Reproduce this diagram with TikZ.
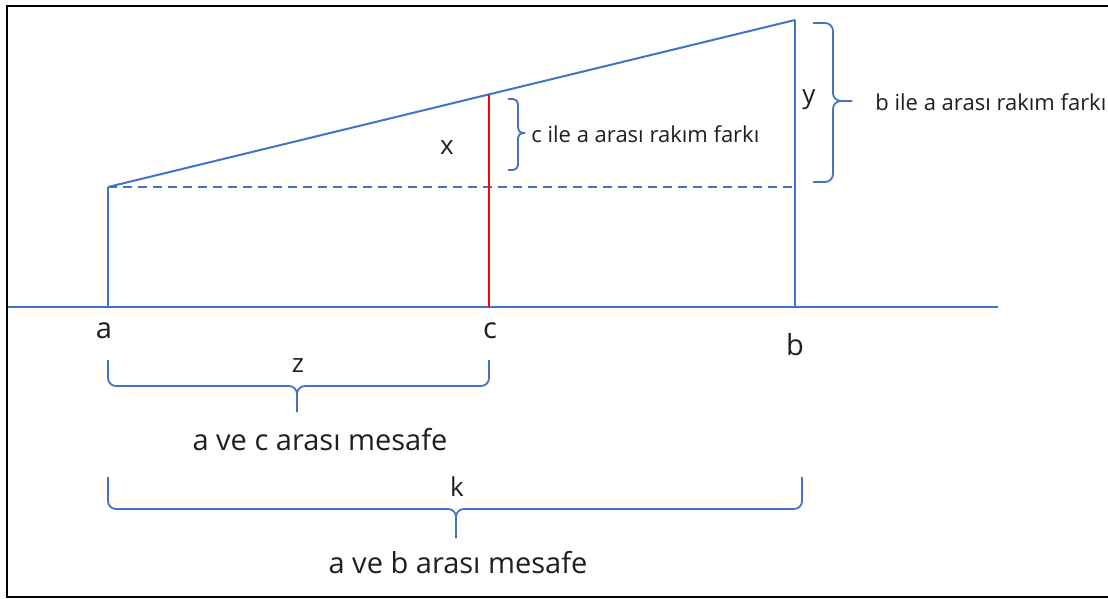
\documentclass[tikz,border=0pt]{standalone}
\usepackage{fontspec}
\setmainfont{Open Sans}
\usetikzlibrary{positioning}
\definecolor{lineblue}{HTML}{4472C4}
\definecolor{txt}{HTML}{1E1E1E}
\tikzset{
  ln/.style   ={draw=lineblue, line width=1pt},
  dln/.style  ={ln, dash pattern=on 4.5pt off 3pt},
  redln/.style={draw=red, line width=1pt},
  brc/.style  ={draw=lineblue, line width=0.9pt, rounded corners=4pt},
  sbrc/.style ={brc, rounded corners=2.5pt},
  pt/.style   ={font=\fontsize{14.5}{17}\selectfont, text=txt, inner sep=0pt},
  lbl/.style  ={font=\fontsize{13}{15}\selectfont, text=txt, inner sep=0pt},
  note/.style ={font=\fontsize{11}{13}\selectfont, text=txt, inner sep=0pt, anchor=west},
}

\begin{document}
\begin{tikzpicture}[x=0.5pt, y=-0.5pt]

  \useasboundingbox (0,0) rectangle (1108,599);

  % ── Frame ──────────────────────────────────────────────────────────
  \draw[line width=1.3pt] (1110,6) -- (7,6) -- (7,597) -- (1110,597);

  % ── Points ─────────────────────────────────────────────────────────
  \coordinate (g0) at (8,307);
  \coordinate (g1) at (998,307);
  \coordinate (a)  at (108,307);
  \coordinate (aT) at (108,187);
  \coordinate (c)  at (489,307);
  \coordinate (cT) at (489,95);
  \coordinate (b)  at (795,307);
  \coordinate (bT) at (795,20);
  \coordinate (bD) at (795,187);

  % ── Terrain ────────────────────────────────────────────────────────
  \draw[ln] (g0) -- (g1);
  \draw[ln] (a) -- (aT);
  \draw[ln] (aT) -- (bT);
  \draw[ln] (b) -- (bT);
  \draw[dln] (aT) -- (bD);
  \draw[redln] (c) -- (cT);

  % ── Point labels ───────────────────────────────────────────────────
  \node[pt] (la) at (104,331) {a};
  \node[pt] (lc) at (490,331) {c};
  \node[pt] (lb) at (795,345) {b};
  \node[lbl] (lx) at (447,148) {x};
  \node[lbl] (ly) at (809,100) {y};

  % ── Height braces ──────────────────────────────────────────────────
  \draw[sbrc] (508,99)  -- (518,99)  -- (518,133) -- (525,133);
  \draw[sbrc] (508,170) -- (518,170) -- (518,133) -- (525,133);
  \node[note] (hx) at (531,134) {c ile a arası rakım farkı};

  \draw[brc] (813,23)  -- (833,23)  -- (833,101) -- (852,101);
  \draw[brc] (813,182) -- (833,182) -- (833,101) -- (852,101);
  \node[note] (hy) at (875,102) {b ile a arası rakım farkı};

  % ── Distance braces ────────────────────────────────────────────────
  \draw[brc] (108,360) -- (108,386) -- (297,386) -- (297,412);
  \draw[brc] (489,360) -- (489,386) -- (297,386) -- (297,412);
  \node[lbl] (lz) at (298,366) {z};
  \node[pt]  (dz) at (320,440) {a ve c arası mesafe};

  \draw[brc] (108,477) -- (108,509) -- (456,509) -- (456,538);
  \draw[brc] (802,477) -- (802,509) -- (456,509) -- (456,538);
  \node[lbl] (lk) at (457,487) {k};
  \node[pt]  (dk) at (458,563) {a ve b arası mesafe};

\end{tikzpicture}
\end{document}
